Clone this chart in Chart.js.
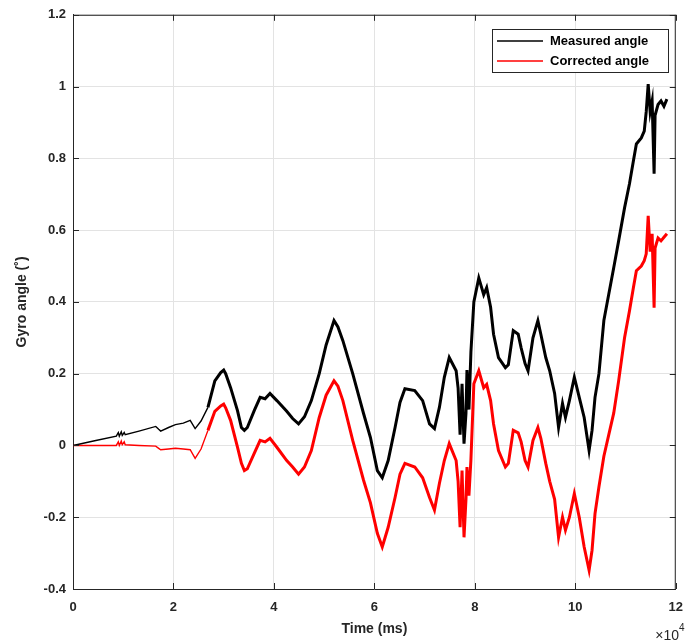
<!DOCTYPE html>
<html>
<head>
<meta charset="utf-8">
<script src="https://cdn.jsdelivr.net/npm/chart.js@4.4.1/dist/chart.umd.min.js"></script>
<style>
html,body{margin:0;padding:0;background:#fff;}
canvas{display:block;}
</style>
</head>
<body>
<canvas id="c" width="694" height="644"></canvas>
<script>
const timeMs = [0,4314,8627,9020,9216,9608,9804,10196,10392,13137,16471,17059,17451,19020,20392,21961,23333,24314,25490,26863,28235,29412,30000,30392,31373,32745,33529,34118,34706,36078,37255,38235,39216,40588,42549,43725,44902,46078,47451,49020,50392,51961,52745,53725,55686,57843,59216,60588,61569,62745,64118,65098,66078,68039,69608,70980,71961,72941,73922,74902,76275,76667,77059,77451,77843,78235,78431,78824,79216,79804,80784,81765,82353,83137,83725,84706,86078,86667,87647,88627,89216,90000,90588,91569,92549,93137,94118,94902,95882,96667,97451,98039,98824,99804,100784,101765,102745,103333,103922,104706,105686,106667,107647,108627,109804,110784,111569,112157,113137,113725,114118,114510,114902,115294,115686,115882,116471,117059,117647,118235];

const measuredAngle = [0,0.013,0.026,0.036,0.026,0.038,0.028,0.036,0.03,0.04,0.053,0.045,0.04,0.05,0.058,0.062,0.07,0.047,0.068,0.106,0.18,0.203,0.21,0.2,0.161,0.097,0.05,0.042,0.05,0.097,0.134,0.13,0.145,0.125,0.095,0.075,0.06,0.08,0.125,0.2,0.28,0.348,0.33,0.292,0.2,0.089,0.022,-0.07,-0.09,-0.042,0.05,0.12,0.158,0.153,0.125,0.06,0.047,0.106,0.19,0.245,0.208,0.16,0.03,0.172,0.005,0.09,0.21,0.1,0.26,0.4,0.467,0.42,0.44,0.385,0.31,0.245,0.217,0.225,0.32,0.31,0.272,0.228,0.208,0.3,0.348,0.31,0.245,0.208,0.145,0.05,0.117,0.078,0.125,0.19,0.134,0.078,-0.014,0.042,0.134,0.2,0.348,0.422,0.495,0.57,0.662,0.729,0.793,0.84,0.857,0.876,0.93,1.007,0.93,0.96,0.757,0.92,0.95,0.96,0.945,0.965];

const correctedAngle = [0,0,0,0.01,0,0.012,0.002,0.01,0.002,0,-0.002,-0.008,-0.012,-0.01,-0.008,-0.01,-0.012,-0.036,-0.01,0.042,0.095,0.11,0.115,0.105,0.07,-0.005,-0.05,-0.07,-0.065,-0.022,0.014,0.01,0.02,-0.005,-0.042,-0.06,-0.08,-0.06,-0.014,0.078,0.14,0.18,0.165,0.125,0.014,-0.097,-0.16,-0.245,-0.283,-0.228,-0.145,-0.08,-0.05,-0.06,-0.09,-0.145,-0.18,-0.106,-0.042,0.005,-0.042,-0.1,-0.228,-0.07,-0.256,-0.15,-0.06,-0.14,-0.04,0.172,0.208,0.161,0.17,0.125,0.06,-0.014,-0.06,-0.05,0.042,0.035,0.01,-0.042,-0.06,0.014,0.05,0.02,-0.05,-0.1,-0.15,-0.256,-0.2,-0.236,-0.2,-0.134,-0.2,-0.283,-0.348,-0.292,-0.19,-0.115,-0.03,0.03,0.09,0.18,0.3,0.375,0.44,0.487,0.5,0.515,0.534,0.64,0.54,0.59,0.384,0.55,0.578,0.57,0.58,0.59];

const seriesNames = ['Measured angle','Corrected angle'];
const xTickLabels = ['0','2','4','6','8','10','12'];
const yTickLabels = ['-0.4','-0.2','0','0.2','0.4','0.6','0.8','1','1.2'];

const FONT = '"Liberation Sans", Arial, sans-serif';
const AX = '#262626';

const toPts = arr => arr.map((v,i)=>({x: timeMs[i], y: v}));
const segWidth = ctx => ctx.p0.parsed.x < 26000 ? 1.4 : 3;

const decor = {
  id: 'decor',
  afterDraw(chart) {
    const {ctx, chartArea: a, scales: {x, y}} = chart;
    ctx.save();
    ctx.strokeStyle = AX; ctx.lineWidth = 1;
    ctx.beginPath();
    ctx.moveTo(a.left, a.top + 0.5); ctx.lineTo(a.right, a.top + 0.5);
    ctx.moveTo(a.right - 0.5, a.top); ctx.lineTo(a.right - 0.5, a.bottom);
    ctx.stroke();
    ctx.beginPath();
    x.ticks.forEach(t => {
      const px = Math.round(x.getPixelForValue(t.value)) + 0.5;
      ctx.moveTo(px, a.bottom); ctx.lineTo(px, a.bottom - 6);
      ctx.moveTo(px, a.top); ctx.lineTo(px, a.top + 6);
    });
    y.ticks.forEach(t => {
      const py = Math.round(y.getPixelForValue(t.value)) + 0.5;
      ctx.moveTo(a.left, py); ctx.lineTo(a.left + 6, py);
      ctx.moveTo(a.right, py); ctx.lineTo(a.right - 6, py);
    });
    ctx.stroke();
    ctx.fillStyle = AX;
    ctx.textBaseline = 'alphabetic';
    ctx.textAlign = 'right';
    ctx.font = '14px ' + FONT;
    ctx.fillText('\u00d710', 679, 640);
    ctx.textAlign = 'left';
    ctx.font = '10px ' + FONT;
    ctx.fillText('4', 679, 631);
    const bx = 492.5, by = 29.5, bw = 176, bh = 43;
    ctx.fillStyle = '#fff';
    ctx.fillRect(bx, by, bw, bh);
    ctx.strokeStyle = AX; ctx.lineWidth = 1;
    ctx.strokeRect(bx, by, bw, bh);
    const ds = chart.data.datasets;
    const rows = [41, 61];
    ds.forEach((d, i) => {
      ctx.strokeStyle = d.borderColor; ctx.lineWidth = 1.5;
      ctx.beginPath(); ctx.moveTo(497, rows[i]); ctx.lineTo(543, rows[i]); ctx.stroke();
      ctx.fillStyle = '#000';
      ctx.font = 'bold 13px ' + FONT;
      ctx.textAlign = 'left'; ctx.textBaseline = 'middle';
      ctx.fillText(d.label, 550, rows[i]);
    });
    ctx.restore();
  }
};

new Chart(document.getElementById('c'), {
  type: 'line',
  data: {
    datasets: [
      { label: seriesNames[0], data: toPts(measuredAngle), borderColor: '#000000', backgroundColor: '#000000',
        borderWidth: 3, pointRadius: 0, tension: 0, segment: { borderWidth: segWidth } },
      { label: seriesNames[1], data: toPts(correctedAngle), borderColor: '#ff0000', backgroundColor: '#ff0000',
        borderWidth: 3, pointRadius: 0, tension: 0, segment: { borderWidth: segWidth } }
    ]
  },
  options: {
    responsive: false,
    animation: false,
    layout: { padding: { left: 0, top: 13, right: 10, bottom: 0 } },
    plugins: { legend: { display: false }, tooltip: { enabled: false } },
    scales: {
      x: {
        type: 'linear', min: 0, max: 120000,
        afterFit: s => { s.height = 55; },
        grid: { color: '#e3e3e3', drawTicks: false },
        border: { display: true, color: AX, width: 1 },
        ticks: { stepSize: 20000, padding: 11, color: AX, maxRotation: 0,
          font: { family: FONT, size: 13, weight: 'bold' },
          callback: v => xTickLabels[Math.round(v / 20000)] },
        title: { display: true, text: 'Time (ms)', color: AX, padding: { top: 0, bottom: 6 },
          font: { family: FONT, size: 14, weight: 'bold' } }
      },
      y: {
        min: -0.4, max: 1.2,
        afterFit: s => { s.width = 73; },
        grid: { color: '#e3e3e3', drawTicks: false },
        border: { display: true, color: AX, width: 1 },
        ticks: { stepSize: 0.2, padding: 7, color: AX,
          font: { family: FONT, size: 13, weight: 'bold' },
          callback: v => yTickLabels[Math.round((v + 0.4) / 0.2)] },
        title: { display: true, text: 'Gyro angle (\u02da)', color: AX, padding: { top: 14, bottom: 0 },
          font: { family: FONT, size: 14, weight: 'bold' } }
      }
    }
  },
  plugins: [decor]
});
</script>
</body>
</html>
